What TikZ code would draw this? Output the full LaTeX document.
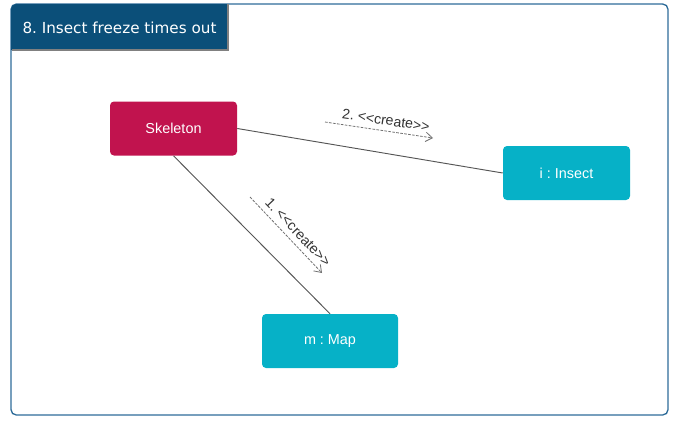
\documentclass[tikz,border=0pt]{standalone}
\usepackage{fontspec}
\setmainfont[Ligatures=NoCommon]{Liberation Sans}
\newfontfamily\titlefont{DejaVu Sans}
\usetikzlibrary{arrows.meta}
\frenchspacing
\definecolor{framecol}{HTML}{2E6C99}
\definecolor{titlecol}{HTML}{0B4F79}
\definecolor{skelcol}{HTML}{C1134E}
\definecolor{objcol}{HTML}{06B1C7}
\definecolor{linecol}{HTML}{555555}
\definecolor{msgcol}{HTML}{707070}

\begin{document}
\begin{tikzpicture}[x=0.75pt,y=-0.75pt]
\tikzstyle{every node}+=[inner sep=0pt]
\tikzstyle{objbox}=[rounded corners=3pt, text=white, font=\fontsize{10.8}{12}\selectfont, minimum height=40.5pt]
\tikzstyle{link}=[linecol, line width=0.7pt]
\tikzstyle{msg}=[msgcol, line width=0.6pt, dash pattern=on 2pt off 1pt, -{Straight Barb[length=5pt,width=7pt]}]
\tikzstyle{msglabel}=[sloped, above=4pt, text=black!80, font=\fontsize{10.6}{12}\selectfont]
\useasboundingbox (0,0) rectangle (691,426);
% frame and title
\draw [framecol, line width=1pt, rounded corners=4pt] (11,4) rectangle (668,415);
\fill [titlecol] (11,50) {[rounded corners=4pt] -- (11,4)} -- (228,4) -- (228,50) -- cycle;
\draw [gray, line width=0.8pt] (228,4) -- (228,50) -- (11.5,50);
\node [text=white, font=\titlefont\fontsize{11.4}{13}\selectfont] (title) at (119.5,28) {8. Insect freeze times out};
% objects
\node [objbox, fill=skelcol, minimum width=95.25pt] (skeleton) at (173.5,128.5) {Skeleton};
\node [objbox, fill=objcol, minimum width=95.25pt] (insect) at (566.5,173) {i : Insect};
\node [objbox, fill=objcol, minimum width=102pt] (map) at (330,341) {m : Map};
% links
\draw [link] (skeleton.east) -- (insect.west);
\draw [link] (skeleton.south) -- (map.north);
% messages
\coordinate (m2a) at (325,122);
\coordinate (m2b) at (433,138);
\draw [msg] (m2a) -- node [msglabel, pos=0.55] {2. \textless{}\textless{}create\textgreater{}\textgreater{}} (m2b);
\coordinate (m1a) at (250,197);
\coordinate (m1b) at (322,273);
\draw [msg] (m1a) -- node [msglabel, pos=0.56] {1. \textless{}\textless{}create\textgreater{}\textgreater{}} (m1b);
\end{tikzpicture}
\end{document}
